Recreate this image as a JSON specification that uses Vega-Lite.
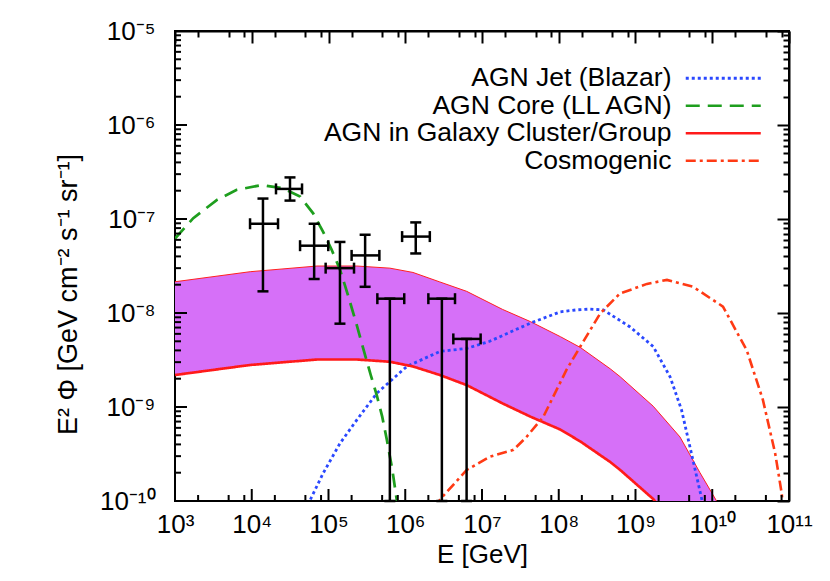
{
  "$schema": "https://vega.github.io/schema/vega-lite/v6.json",
  "width": 614,
  "height": 470,
  "autosize": {"type": "none"},
  "padding": {"left": 175, "top": 31, "right": 41, "bottom": 80},
  "background": "white",
  "datasets": {
    "band": [
      {"E": 1000, "lo": 2.19e-9, "hi": 2.15e-8},
      {"E": 9550, "lo": 2.8e-9, "hi": 2.75e-8},
      {"E": 70800, "lo": 3.2e-9, "hi": 3.16e-8},
      {"E": 234000, "lo": 3.2e-9, "hi": 3.16e-8},
      {"E": 631000, "lo": 3.03e-9, "hi": 3.0e-8},
      {"E": 1260000, "lo": 2.7e-9, "hi": 2.7e-8},
      {"E": 2820000, "lo": 2.19e-9, "hi": 2.14e-8},
      {"E": 6310000, "lo": 1.71e-9, "hi": 1.7e-8},
      {"E": 18600000, "lo": 1.09e-9, "hi": 1.09e-8},
      {"E": 42700000, "lo": 7.9e-10, "hi": 8.1e-9},
      {"E": 105000000, "lo": 5.75e-10, "hi": 5.6e-9},
      {"E": 191000000, "lo": 4.3e-10, "hi": 4.3e-9},
      {"E": 468000000, "lo": 2.6e-10, "hi": 2.55e-9},
      {"E": 631000000, "lo": 2.14e-10, "hi": 2.1e-9},
      {"E": 1700000000, "lo": 1.05e-10, "hi": 1.02e-9},
      {"E": 3800000000, "lo": 4.8e-11, "hi": 4.8e-10},
      {"E": 6920000000, "lo": 2.0e-11, "hi": 2.0e-10},
      {"E": 11000000000, "lo": 1.05e-11, "hi": 1.05e-10},
      {"E": 14100000000, "lo": 7e-12, "hi": 7e-11}
    ],
    "curves": [
      {"series": "AGN Jet (Blazar)", "E": 44700, "F": 6.0e-11},
      {"series": "AGN Jet (Blazar)", "E": 57500, "F": 1.02e-10},
      {"series": "AGN Jet (Blazar)", "E": 85100, "F": 1.97e-10},
      {"series": "AGN Jet (Blazar)", "E": 141000, "F": 4.1e-10},
      {"series": "AGN Jet (Blazar)", "E": 234000, "F": 7.3e-10},
      {"series": "AGN Jet (Blazar)", "E": 427000, "F": 1.4e-9},
      {"series": "AGN Jet (Blazar)", "E": 1050000, "F": 2.7e-9},
      {"series": "AGN Jet (Blazar)", "E": 2820000, "F": 3.9e-9},
      {"series": "AGN Jet (Blazar)", "E": 6310000, "F": 4.2e-9},
      {"series": "AGN Jet (Blazar)", "E": 12600000, "F": 5.0e-9},
      {"series": "AGN Jet (Blazar)", "E": 42700000, "F": 7.8e-9},
      {"series": "AGN Jet (Blazar)", "E": 105000000, "F": 1.03e-8},
      {"series": "AGN Jet (Blazar)", "E": 170000000, "F": 1.08e-8},
      {"series": "AGN Jet (Blazar)", "E": 251000000, "F": 1.1e-8},
      {"series": "AGN Jet (Blazar)", "E": 380000000, "F": 1.08e-8},
      {"series": "AGN Jet (Blazar)", "E": 851000000, "F": 7.1e-9},
      {"series": "AGN Jet (Blazar)", "E": 1700000000, "F": 4.4e-9},
      {"series": "AGN Jet (Blazar)", "E": 2820000000, "F": 2.1e-9},
      {"series": "AGN Jet (Blazar)", "E": 3980000000, "F": 9.3e-10},
      {"series": "AGN Jet (Blazar)", "E": 5620000000, "F": 2.7e-10},
      {"series": "AGN Jet (Blazar)", "E": 7240000000, "F": 1.08e-10},
      {"series": "AGN Jet (Blazar)", "E": 8320000000, "F": 6e-11},
      {"series": "AGN Core (LL AGN)", "E": 1000, "F": 6.2e-8},
      {"series": "AGN Core (LL AGN)", "E": 1730, "F": 1.02e-7},
      {"series": "AGN Core (LL AGN)", "E": 3490, "F": 1.59e-7},
      {"series": "AGN Core (LL AGN)", "E": 6370, "F": 2.04e-7},
      {"series": "AGN Core (LL AGN)", "E": 13500, "F": 2.3e-7},
      {"series": "AGN Core (LL AGN)", "E": 25700, "F": 2.12e-7},
      {"series": "AGN Core (LL AGN)", "E": 42700, "F": 1.73e-7},
      {"series": "AGN Core (LL AGN)", "E": 63100, "F": 1.15e-7},
      {"series": "AGN Core (LL AGN)", "E": 85100, "F": 7.3e-8},
      {"series": "AGN Core (LL AGN)", "E": 110000, "F": 4.7e-8},
      {"series": "AGN Core (LL AGN)", "E": 141000, "F": 2.9e-8},
      {"series": "AGN Core (LL AGN)", "E": 178000, "F": 1.58e-8},
      {"series": "AGN Core (LL AGN)", "E": 234000, "F": 7.4e-9},
      {"series": "AGN Core (LL AGN)", "E": 288000, "F": 4.0e-9},
      {"series": "AGN Core (LL AGN)", "E": 355000, "F": 2.19e-9},
      {"series": "AGN Core (LL AGN)", "E": 427000, "F": 1.32e-9},
      {"series": "AGN Core (LL AGN)", "E": 501000, "F": 7.9e-10},
      {"series": "AGN Core (LL AGN)", "E": 575000, "F": 4.5e-10},
      {"series": "AGN Core (LL AGN)", "E": 676000, "F": 2.2e-10},
      {"series": "AGN Core (LL AGN)", "E": 776000, "F": 1.02e-10},
      {"series": "AGN Core (LL AGN)", "E": 891000, "F": 4.5e-11},
      {"series": "AGN in Galaxy Cluster/Group", "E": 1000, "F": 2.19e-9},
      {"series": "AGN in Galaxy Cluster/Group", "E": 9550, "F": 2.8e-9},
      {"series": "AGN in Galaxy Cluster/Group", "E": 70800, "F": 3.2e-9},
      {"series": "AGN in Galaxy Cluster/Group", "E": 234000, "F": 3.2e-9},
      {"series": "AGN in Galaxy Cluster/Group", "E": 631000, "F": 3.03e-9},
      {"series": "AGN in Galaxy Cluster/Group", "E": 1260000, "F": 2.7e-9},
      {"series": "AGN in Galaxy Cluster/Group", "E": 2820000, "F": 2.19e-9},
      {"series": "AGN in Galaxy Cluster/Group", "E": 6310000, "F": 1.71e-9},
      {"series": "AGN in Galaxy Cluster/Group", "E": 18600000, "F": 1.09e-9},
      {"series": "AGN in Galaxy Cluster/Group", "E": 42700000, "F": 7.9e-10},
      {"series": "AGN in Galaxy Cluster/Group", "E": 105000000, "F": 5.75e-10},
      {"series": "AGN in Galaxy Cluster/Group", "E": 191000000, "F": 4.3e-10},
      {"series": "AGN in Galaxy Cluster/Group", "E": 468000000, "F": 2.6e-10},
      {"series": "AGN in Galaxy Cluster/Group", "E": 631000000, "F": 2.14e-10},
      {"series": "AGN in Galaxy Cluster/Group", "E": 1700000000, "F": 1.05e-10},
      {"series": "AGN in Galaxy Cluster/Group", "E": 3800000000, "F": 4.8e-11},
      {"series": "Cosmogenic", "E": 2240000, "F": 5e-11},
      {"series": "Cosmogenic", "E": 2820000, "F": 1.03e-10},
      {"series": "Cosmogenic", "E": 6310000, "F": 2.14e-10},
      {"series": "Cosmogenic", "E": 12600000, "F": 2.96e-10},
      {"series": "Cosmogenic", "E": 25700000, "F": 3.5e-10},
      {"series": "Cosmogenic", "E": 38000000, "F": 4.8e-10},
      {"series": "Cosmogenic", "E": 63100000, "F": 7.9e-10},
      {"series": "Cosmogenic", "E": 126000000, "F": 2.48e-9},
      {"series": "Cosmogenic", "E": 191000000, "F": 4.4e-9},
      {"series": "Cosmogenic", "E": 347000000, "F": 9.9e-9},
      {"series": "Cosmogenic", "E": 631000000, "F": 1.62e-8},
      {"series": "Cosmogenic", "E": 851000000, "F": 1.76e-8},
      {"series": "Cosmogenic", "E": 1410000000, "F": 2.04e-8},
      {"series": "Cosmogenic", "E": 2570000000, "F": 2.25e-8},
      {"series": "Cosmogenic", "E": 5620000000, "F": 1.9e-8},
      {"series": "Cosmogenic", "E": 13800000000, "F": 1.17e-8},
      {"series": "Cosmogenic", "E": 28200000000, "F": 4.0e-9},
      {"series": "Cosmogenic", "E": 45700000000, "F": 1.19e-9},
      {"series": "Cosmogenic", "E": 66100000000, "F": 3.2e-10},
      {"series": "Cosmogenic", "E": 80400000000, "F": 1.2e-10},
      {"series": "Cosmogenic", "E": 89100000000, "F": 5e-11}
    ],
    "pts": [
      {"E": 14000, "F": 8.9e-8, "Elo": 9500, "Ehi": 22000, "Flo": 1.7e-8, "Fhi": 1.65e-7},
      {"E": 31500, "F": 2.09e-7, "Elo": 20700, "Ehi": 45200, "Flo": 1.57e-7, "Fhi": 2.77e-7},
      {"E": 65000, "F": 5.2e-8, "Elo": 42600, "Ehi": 99300, "Flo": 2.3e-8, "Fhi": 8.9e-8},
      {"E": 141000, "F": 3.0e-8, "Elo": 91800, "Ehi": 215000, "Flo": 7.7e-9, "Fhi": 5.7e-8},
      {"E": 300000, "F": 4.1e-8, "Elo": 200000, "Ehi": 460000, "Flo": 1.9e-8, "Fhi": 6.8e-8},
      {"E": 630000, "F": 1.42e-8, "Elo": 433000, "Ehi": 970000, "Flo": 1e-10, "Fhi": 1.42e-8},
      {"E": 1370000, "F": 6.5e-8, "Elo": 910000, "Ehi": 2090000, "Flo": 4.3e-8, "Fhi": 9.2e-8},
      {"E": 3000000, "F": 1.42e-8, "Elo": 2000000, "Ehi": 4450000, "Flo": 1e-10, "Fhi": 1.42e-8},
      {"E": 6300000, "F": 5.3e-9, "Elo": 4230000, "Ehi": 9600000, "Flo": 1e-10, "Fhi": 5.3e-9}
    ],
    "xticks": [
      {"E": 1000}, {"E": 2000}, {"E": 5000}, {"E": 8000},
      {"E": 10000}, {"E": 20000}, {"E": 50000}, {"E": 80000},
      {"E": 100000}, {"E": 200000}, {"E": 500000}, {"E": 800000},
      {"E": 1000000}, {"E": 2000000}, {"E": 5000000}, {"E": 8000000},
      {"E": 10000000}, {"E": 20000000}, {"E": 50000000}, {"E": 80000000},
      {"E": 100000000}, {"E": 200000000}, {"E": 500000000}, {"E": 800000000},
      {"E": 1000000000}, {"E": 2000000000}, {"E": 5000000000}, {"E": 8000000000},
      {"E": 10000000000}, {"E": 20000000000}, {"E": 50000000000}, {"E": 80000000000},
      {"E": 100000000000}
    ],
    "yticks": [
      {"F": 1e-10}, {"F": 2e-10}, {"F": 3e-10}, {"F": 4e-10}, {"F": 5e-10}, {"F": 6e-10}, {"F": 7e-10}, {"F": 8e-10}, {"F": 9e-10},
      {"F": 1e-9}, {"F": 2e-9}, {"F": 3e-9}, {"F": 4e-9}, {"F": 5e-9}, {"F": 6e-9}, {"F": 7e-9}, {"F": 8e-9}, {"F": 9e-9},
      {"F": 1e-8}, {"F": 2e-8}, {"F": 3e-8}, {"F": 4e-8}, {"F": 5e-8}, {"F": 6e-8}, {"F": 7e-8}, {"F": 8e-8}, {"F": 9e-8},
      {"F": 1e-7}, {"F": 2e-7}, {"F": 3e-7}, {"F": 4e-7}, {"F": 5e-7}, {"F": 6e-7}, {"F": 7e-7}, {"F": 8e-7}, {"F": 9e-7},
      {"F": 1e-6}, {"F": 2e-6}, {"F": 3e-6}, {"F": 4e-6}, {"F": 5e-6}, {"F": 6e-6}, {"F": 7e-6}, {"F": 8e-6}, {"F": 9e-6},
      {"F": 1e-5}
    ]
  },
  "layer": [
    {
      "data": {"name": "band"},
      "mark": {"type": "area", "color": "#d670f8", "clip": true},
      "encoding": {
        "x": {
          "field": "E", "type": "quantitative",
          "scale": {"type": "log", "domain": [1000, 100000000000], "nice": false},
          "axis": {
            "orient": "bottom",
            "title": "E [GeV]",
            "ticks": false,
            "domain": false,
            "values": [1000, 10000, 100000, 1000000, 10000000, 100000000, 1000000000, 10000000000, 100000000000],
            "labelExpr": "['10³','10⁴','10⁵','10⁶','10⁷','10⁸','10⁹','10¹⁰','10¹¹'][round(log(datum.value)/LN10)-3]",
            "labelPadding": 10,
            "titleY": 40
          }
        },
        "y": {
          "field": "lo", "type": "quantitative",
          "scale": {"type": "log", "domain": [1e-10, 1e-5], "nice": false},
          "axis": {
            "orient": "left",
            "title": "E² Φ [GeV cm⁻² s⁻¹ sr⁻¹]",
            "ticks": false,
            "domain": false,
            "values": [1e-10, 1e-9, 1e-8, 1e-7, 1e-6, 1e-5],
            "labelExpr": "['10⁻¹⁰','10⁻⁹','10⁻⁸','10⁻⁷','10⁻⁶','10⁻⁵'][round(log(datum.value)/LN10)+10]",
            "labelPadding": 20,
            "titlePadding": 17,
            "titleFontSize": 27,
            "titleY": 263
          }
        },
        "y2": {"field": "hi"}
      }
    },
    {
      "data": {"name": "band"},
      "mark": {"type": "line", "color": "#ff2020", "strokeWidth": 1, "clip": true},
      "encoding": {
        "x": {"field": "E", "type": "quantitative", "scale": {"type": "log", "domain": [1000, 100000000000], "nice": false}, "axis": null},
        "y": {"field": "hi", "type": "quantitative", "scale": {"type": "log", "domain": [1e-10, 1e-5], "nice": false}, "axis": null}
      }
    },
    {
      "data": {"name": "curves"},
      "mark": {"type": "line", "clip": true},
      "encoding": {
        "x": {"field": "E", "type": "quantitative", "scale": {"type": "log", "domain": [1000, 100000000000], "nice": false}, "axis": null},
        "y": {"field": "F", "type": "quantitative", "scale": {"type": "log", "domain": [1e-10, 1e-5], "nice": false}, "axis": null},
        "color": {
          "field": "series", "type": "nominal",
          "scale": {
            "domain": ["AGN Jet (Blazar)", "AGN Core (LL AGN)", "AGN in Galaxy Cluster/Group", "Cosmogenic"],
            "range": ["#2a48ff", "#1e9e1e", "#ff1a1a", "#ff3a14"]
          },
          "legend": {
            "title": null, "orient": "none", "legendX": 535, "legendY": 34,
            "symbolType": "M-5,0H5", "symbolSize": 225, "symbolStrokeWidth": 2.5,
            "labelAlign": "right", "labelOffset": -65, "labelFontSize": 26.5, "labelLimit": 500,
            "labelColor": "black", "rowPadding": 0.5, "padding": 0
          }
        },
        "strokeDash": {
          "field": "series", "type": "nominal",
          "scale": {
            "domain": ["AGN Jet (Blazar)", "AGN Core (LL AGN)", "AGN in Galaxy Cluster/Group", "Cosmogenic"],
            "range": [[3, 3], [14, 8], [1, 0], [10, 4, 3, 4]]
          },
          "legend": {
            "title": null, "orient": "none", "legendX": 535, "legendY": 34,
            "symbolType": "M-5,0H5", "symbolSize": 225, "symbolStrokeWidth": 2.5,
            "labelAlign": "right", "labelOffset": -65, "labelFontSize": 26.5, "labelLimit": 500,
            "labelColor": "black", "rowPadding": 0.5, "padding": 0
          }
        },
        "strokeWidth": {
          "field": "series", "type": "nominal",
          "scale": {
            "domain": ["AGN Jet (Blazar)", "AGN Core (LL AGN)", "AGN in Galaxy Cluster/Group", "Cosmogenic"],
            "range": [2.8, 2.6, 3, 2.6]
          },
          "legend": null
        }
      }
    },
    {
      "data": {"name": "pts"},
      "mark": {"type": "rule", "color": "black", "strokeWidth": 2.5},
      "encoding": {
        "x": {"field": "E", "type": "quantitative", "scale": {"type": "log", "domain": [1000, 100000000000], "nice": false}, "axis": null},
        "y": {"field": "Flo", "type": "quantitative", "scale": {"type": "log", "domain": [1e-10, 1e-5], "nice": false}, "axis": null},
        "y2": {"field": "Fhi"}
      }
    },
    {
      "data": {"name": "pts"},
      "mark": {"type": "rule", "color": "black", "strokeWidth": 2.5},
      "encoding": {
        "x": {"field": "Elo", "type": "quantitative", "scale": {"type": "log", "domain": [1000, 100000000000], "nice": false}, "axis": null},
        "x2": {"field": "Ehi"},
        "y": {"field": "F", "type": "quantitative", "scale": {"type": "log", "domain": [1e-10, 1e-5], "nice": false}, "axis": null}
      }
    },
    {
      "data": {"name": "pts"},
      "mark": {"type": "tick", "orient": "horizontal", "size": 11, "thickness": 2.5, "color": "black", "opacity": 1},
      "encoding": {
        "x": {"field": "E", "type": "quantitative", "scale": {"type": "log", "domain": [1000, 100000000000], "nice": false}, "axis": null},
        "y": {"field": "Flo", "type": "quantitative", "scale": {"type": "log", "domain": [1e-10, 1e-5], "nice": false}, "axis": null}
      }
    },
    {
      "data": {"name": "pts"},
      "mark": {"type": "tick", "orient": "horizontal", "size": 11, "thickness": 2.5, "color": "black", "opacity": 1},
      "encoding": {
        "x": {"field": "E", "type": "quantitative", "scale": {"type": "log", "domain": [1000, 100000000000], "nice": false}, "axis": null},
        "y": {"field": "Fhi", "type": "quantitative", "scale": {"type": "log", "domain": [1e-10, 1e-5], "nice": false}, "axis": null}
      }
    },
    {
      "data": {"name": "pts"},
      "mark": {"type": "tick", "orient": "vertical", "size": 11, "thickness": 2.5, "color": "black", "opacity": 1},
      "encoding": {
        "x": {"field": "Elo", "type": "quantitative", "scale": {"type": "log", "domain": [1000, 100000000000], "nice": false}, "axis": null},
        "y": {"field": "F", "type": "quantitative", "scale": {"type": "log", "domain": [1e-10, 1e-5], "nice": false}, "axis": null}
      }
    },
    {
      "data": {"name": "pts"},
      "mark": {"type": "tick", "orient": "vertical", "size": 11, "thickness": 2.5, "color": "black", "opacity": 1},
      "encoding": {
        "x": {"field": "Ehi", "type": "quantitative", "scale": {"type": "log", "domain": [1000, 100000000000], "nice": false}, "axis": null},
        "y": {"field": "F", "type": "quantitative", "scale": {"type": "log", "domain": [1e-10, 1e-5], "nice": false}, "axis": null}
      }
    },
    {
      "data": {"name": "xticks"},
      "transform": [{"filter": "abs(log(datum.E)/LN10-round(log(datum.E)/LN10))<0.01"}],
      "mark": {"type": "tick", "orient": "vertical", "size": 12, "thickness": 2, "color": "black", "opacity": 1, "yOffset": -6},
      "encoding": {
        "x": {"field": "E", "type": "quantitative", "scale": {"type": "log", "domain": [1000, 100000000000], "nice": false}, "axis": null},
        "y": {"datum": 1e-10, "type": "quantitative", "scale": {"type": "log", "domain": [1e-10, 1e-5], "nice": false}, "axis": null}
      }
    },
    {
      "data": {"name": "xticks"},
      "transform": [{"filter": "abs(log(datum.E)/LN10-round(log(datum.E)/LN10))>=0.01"}],
      "mark": {"type": "tick", "orient": "vertical", "size": 6, "thickness": 2, "color": "black", "opacity": 1, "yOffset": -3},
      "encoding": {
        "x": {"field": "E", "type": "quantitative", "scale": {"type": "log", "domain": [1000, 100000000000], "nice": false}, "axis": null},
        "y": {"datum": 1e-10, "type": "quantitative", "scale": {"type": "log", "domain": [1e-10, 1e-5], "nice": false}, "axis": null}
      }
    },
    {
      "data": {"name": "yticks"},
      "transform": [{"filter": "abs(log(datum.F)/LN10-round(log(datum.F)/LN10))<0.01"}],
      "mark": {"type": "tick", "orient": "horizontal", "size": 12, "thickness": 2, "color": "black", "opacity": 1, "xOffset": 6},
      "encoding": {
        "x": {"datum": 1000, "type": "quantitative", "scale": {"type": "log", "domain": [1000, 100000000000], "nice": false}, "axis": null},
        "y": {"field": "F", "type": "quantitative", "scale": {"type": "log", "domain": [1e-10, 1e-5], "nice": false}, "axis": null}
      }
    },
    {
      "data": {"name": "yticks"},
      "transform": [{"filter": "abs(log(datum.F)/LN10-round(log(datum.F)/LN10))>=0.01"}],
      "mark": {"type": "tick", "orient": "horizontal", "size": 6, "thickness": 2, "color": "black", "opacity": 1, "xOffset": 3},
      "encoding": {
        "x": {"datum": 1000, "type": "quantitative", "scale": {"type": "log", "domain": [1000, 100000000000], "nice": false}, "axis": null},
        "y": {"field": "F", "type": "quantitative", "scale": {"type": "log", "domain": [1e-10, 1e-5], "nice": false}, "axis": null}
      }
    },
    {
      "data": {"name": "pts"},
      "mark": {"type": "point", "opacity": 0},
      "encoding": {
        "x": {
          "field": "E", "type": "quantitative",
          "scale": {"type": "log", "domain": [1000, 100000000000], "nice": false},
          "axis": {
            "orient": "top", "labels": false, "title": null,
            "values": [1000, 2000, 5000, 8000, 10000, 20000, 50000, 80000, 100000, 200000, 500000, 800000, 1000000, 2000000, 5000000, 8000000, 10000000, 20000000, 50000000, 80000000, 100000000, 200000000, 500000000, 800000000, 1000000000, 2000000000, 5000000000, 8000000000, 10000000000, 20000000000, 50000000000, 80000000000, 100000000000],
            "tickSize": {"condition": {"test": "abs(log(datum.value)/LN10-round(log(datum.value)/LN10))<0.01", "value": -12}, "value": -6}
          }
        },
        "y": {
          "field": "F", "type": "quantitative",
          "scale": {"type": "log", "domain": [1e-10, 1e-5], "nice": false},
          "axis": {
            "orient": "right", "labels": false, "title": null,
            "values": [1e-10, 2e-10, 3e-10, 4e-10, 5e-10, 6e-10, 7e-10, 8e-10, 9e-10, 1e-9, 2e-9, 3e-9, 4e-9, 5e-9, 6e-9, 7e-9, 8e-9, 9e-9, 1e-8, 2e-8, 3e-8, 4e-8, 5e-8, 6e-8, 7e-8, 8e-8, 9e-8, 1e-7, 2e-7, 3e-7, 4e-7, 5e-7, 6e-7, 7e-7, 8e-7, 9e-7, 1e-6, 2e-6, 3e-6, 4e-6, 5e-6, 6e-6, 7e-6, 8e-6, 9e-6, 1e-5],
            "tickSize": {"condition": {"test": "abs(log(datum.value)/LN10-round(log(datum.value)/LN10))<0.01", "value": -12}, "value": -6}
          }
        }
      }
    }
  ],
  "resolve": {"axis": {"x": "independent", "y": "independent"}},
  "config": {
    "font": "Liberation Sans",
    "view": {"stroke": "black", "strokeWidth": 2},
    "axis": {
      "zindex": 1,
      "domainColor": "black", "domainWidth": 2,
      "tickColor": "black", "tickWidth": 2,
      "labelColor": "black", "labelFontSize": 26, "labelFont": "Liberation Sans",
      "labelOverlap": false, "labelFlush": false, "labelBound": false,
      "titleFont": "Liberation Sans", "titleFontSize": 26, "titleFontWeight": "normal", "titleColor": "black",
      "grid": false
    },
    "legend": {"labelFont": "Liberation Sans"}
  }
}
